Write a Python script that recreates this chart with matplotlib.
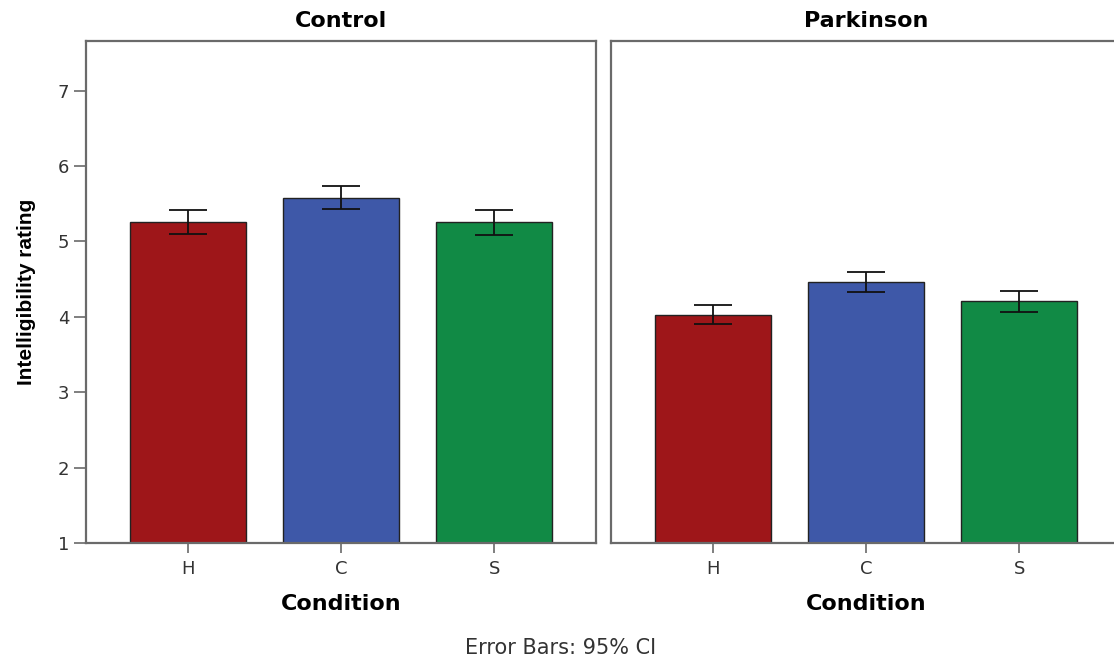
import matplotlib.pyplot as plt

# values
groups = ["Control", "Parkinson"]
conditions = ["H", "C", "S"]
means = {"Control": [5.26, 5.58, 5.26], "Parkinson": [4.03, 4.46, 4.21]}
ci_low = {"Control": [5.10, 5.43, 5.09], "Parkinson": [3.90, 4.33, 4.07]}
ci_high = {"Control": [5.42, 5.74, 5.42], "Parkinson": [4.16, 4.60, 4.34]}
bar_colors = ["#9e1619", "#3e58a8", "#118a45"]

fig = plt.figure(figsize=(11.14, 6.58), dpi=100)
plt.rcParams['font.family'] = ['DejaVu Sans']

spine_col = "#6a6a6a"
text_col = "#333333"
ax_left = fig.add_axes([0.0772, 0.1748, 0.4578, 0.763])
ax_right = fig.add_axes([0.5485, 0.1748, 0.4578, 0.763])

for ax, g in zip([ax_left, ax_right], groups):
    x = range(len(conditions))
    m = means[g]
    err = [[m[i] - ci_low[g][i] for i in x], [ci_high[g][i] - m[i] for i in x]]
    ax.bar(x, [v - 1 for v in m], bottom=1, width=0.756, color=bar_colors,
           edgecolor="#222222", linewidth=1.0, zorder=2)
    ax.errorbar(x, m, yerr=err, fmt="none", ecolor="#111111", elinewidth=1.3,
                capsize=14, capthick=1.3, zorder=3)
    ax.set_xlim(-0.665, 2.665)
    ax.set_ylim(1, 7.66)
    ax.set_xticks(list(x))
    ax.set_xticklabels(conditions)
    ax.set_title(g, fontsize=16, fontweight="bold", pad=10)
    ax.set_xlabel("Condition", fontsize=16, fontweight="bold", labelpad=12)
    for s in ax.spines.values():
        s.set_color(spine_col)
        s.set_linewidth(1.6)
    ax.tick_params(axis="x", length=7, width=1.2, color=spine_col,
                   labelsize=13, labelcolor=text_col, pad=5)
    ax.tick_params(axis="y", length=9, width=1.2, color=spine_col,
                   labelsize=13, labelcolor=text_col, pad=3)

ax_left.set_yticks([1, 2, 3, 4, 5, 6, 7])
ax_left.set_ylabel("Intelligibility rating", fontsize=15, fontweight="bold",
                   family=['Liberation Sans', 'DejaVu Sans'], labelpad=16)
ax_right.set_yticks([])

fig.text(0.503, 0.0, "Error Bars: 95% CI", ha="center", va="bottom",
         fontsize=15, color=text_col)

fig.savefig("out.png", dpi=100)
